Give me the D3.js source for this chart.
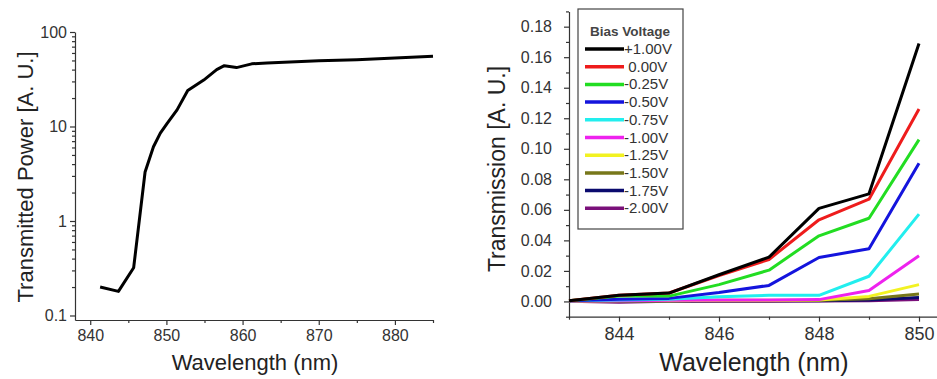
<!DOCTYPE html>
<html>
<head>
<meta charset="utf-8">
<script src="https://cdn.jsdelivr.net/npm/d3@7"></script>
<style>
  body { margin: 0; background: #fff; }
  svg { display: block; font-family: "Liberation Sans", Arial, sans-serif; }
  .axis path, .axis line { stroke: #333; stroke-width: 1.2; }
  .axis text { fill: #333; }
</style>
</head>
<body>
<svg width="937" height="379"></svg>
<script>
// left panel: transmitted power vs wavelength (log scale)
const powerWavelength = [841.3, 843.7, 845.7, 847.2, 848.3, 849.2, 850.1, 851.4, 852.8, 854.9, 856.6, 857.6, 859.2, 861.2, 863.2, 870, 875, 880, 885];
const powerValues = [0.2, 0.18, 0.32, 3.3, 6.1, 8.5, 10.8, 15, 24, 31, 40, 44, 42, 46, 47, 49.5, 51, 53, 55.5];
const powerXTicks = [840, 850, 860, 870, 880];
const powerYTicks = [0.1, 1, 10, 100];

// right panel: transmission for each bias voltage
const biasLabels = ['+1.00V', ' 0.00V', '-0.25V', '-0.50V', '-0.75V', '-1.00V', '-1.25V', '-1.50V', '-1.75V', '-2.00V'];
const biasColors = ['#000000', '#ee1c1c', '#22dd22', '#1414dd', '#22eeee', '#ee22ee', '#f2f222', '#77771a', '#0a0a6e', '#7a107a'];
const transWavelength = [843, 844, 845, 846, 847, 848, 849, 850];
const transP100 = [0.0005, 0.004, 0.0055, 0.0175, 0.029, 0.061, 0.0705, 0.169];
const transP000 = [0.0005, 0.004, 0.0055, 0.017, 0.0275, 0.0535, 0.067, 0.126];
const transM025 = [0.0005, 0.0035, 0.0035, 0.011, 0.0205, 0.043, 0.0545, 0.106];
const transM050 = [0.0005, 0.0015, 0.002, 0.0058, 0.0105, 0.0288, 0.0345, 0.0905];
const transM075 = [0.0005, 0.001, 0.0015, 0.003, 0.004, 0.004, 0.0165, 0.0572];
const transM100 = [0.0003, 0.0005, 0.0008, 0.001, 0.001, 0.0012, 0.0072, 0.0299];
const transM125 = [0.0003, 0.0005, 0.0005, 0.0008, 0.0008, 0.001, 0.0033, 0.011];
const transM150 = [0.0002, 0.0004, 0.0004, 0.0005, 0.0005, 0.0007, 0.0018, 0.0048];
const transM175 = [0.0002, 0.0003, 0.0003, 0.0004, 0.0004, 0.0005, 0.001, 0.0025];
const transM200 = [0.0001, -0.0006, 0.0002, 0.0002, 0.0002, 0.0003, 0.0005, 0.0012];
const transSeries = [transP100, transP000, transM025, transM050, transM075, transM100, transM125, transM150, transM175, transM200];
const transXTicks = [844, 846, 848, 850];
const transYTicks = d3.range(0, 0.181, 0.02);

const svg = d3.select('svg');

// ---------- left chart ----------
const x1 = d3.scaleLinear().domain([838, 885]).range([75, 433]);
const y1 = d3.scaleLog().domain([0.0896, 100]).range([320, 32]);

const minorLog = [];
[0.1, 1, 10].forEach(d => { for (let k = 2; k <= 9; k++) minorLog.push(d * k); });

svg.append('g').attr('class', 'axis')
  .attr('transform', 'translate(0,320)')
  .call(d3.axisBottom(x1).tickValues(powerXTicks).tickSize(5).tickSizeOuter(0).tickPadding(5).tickFormat(d3.format('d')))
  .call(g => g.selectAll('text').style('font-size', '16px'));
svg.append('g').attr('class', 'axis')
  .attr('transform', 'translate(0,320)')
  .call(d3.axisBottom(x1).tickValues([845, 855, 865, 875, 885]).tickSize(3).tickSizeOuter(0).tickFormat(''))
  .call(g => g.select('.domain').remove());

svg.append('g').attr('class', 'axis')
  .attr('transform', 'translate(75,0)')
  .call(d3.axisLeft(y1).tickValues(powerYTicks).tickSize(5).tickSizeOuter(0).tickPadding(3).tickFormat(d => d3.format('~g')(d)))
  .call(g => g.selectAll('text').style('font-size', '16px'));
svg.append('g').attr('class', 'axis')
  .attr('transform', 'translate(75,0)')
  .call(d3.axisLeft(y1).tickValues(minorLog).tickSize(3).tickFormat(''))
  .call(g => g.select('.domain').remove());

svg.append('path')
  .datum(powerWavelength.map((w, i) => [w, powerValues[i]]))
  .attr('fill', 'none')
  .attr('stroke', '#000')
  .attr('stroke-width', 3)
  .attr('stroke-linejoin', 'round')
  .attr('d', d3.line().x(d => x1(d[0])).y(d => y1(d[1])));

svg.append('text')
  .attr('x', 255).attr('y', 370)
  .attr('text-anchor', 'middle')
  .style('font-size', '22px').attr('fill', '#222')
  .text('Wavelength (nm)');

svg.append('text')
  .attr('transform', 'translate(33,177) rotate(-90)')
  .attr('text-anchor', 'middle')
  .style('font-size', '22px').attr('fill', '#222')
  .text('Transmitted Power [A. U.]');

// ---------- right chart ----------
const x2 = d3.scaleLinear().domain([843, 850.35]).range([569, 936.5]);
const y2 = d3.scaleLinear().domain([-0.01, 0.19]).range([316.7, 11.4]);

svg.append('g').attr('class', 'axis')
  .attr('transform', 'translate(0,316.7)')
  .call(d3.axisBottom(x2).tickValues(transXTicks).tickSize(5).tickSizeOuter(0).tickPadding(6).tickFormat(d3.format('d')))
  .call(g => g.selectAll('text').style('font-size', '18px'));
svg.append('g').attr('class', 'axis')
  .attr('transform', 'translate(0,316.7)')
  .call(d3.axisBottom(x2).tickValues([843, 845, 847, 849]).tickSize(3).tickFormat(''))
  .call(g => g.select('.domain').remove());

svg.append('g').attr('class', 'axis')
  .attr('transform', 'translate(569,0)')
  .call(d3.axisLeft(y2).tickValues(transYTicks).tickSize(5).tickSizeOuter(0).tickPadding(12).tickFormat(d3.format('.2f')))
  .call(g => g.selectAll('text').style('font-size', '16px'));
svg.append('g').attr('class', 'axis')
  .attr('transform', 'translate(569,0)')
  .call(d3.axisLeft(y2).tickValues(d3.range(-0.01, 0.191, 0.02)).tickSize(3).tickFormat(''))
  .call(g => g.select('.domain').remove());

const line2 = d3.line().x((d, i) => x2(transWavelength[i])).y(d => y2(d));
// draw the lowest series first so the large ones sit on top
transSeries.slice().reverse().forEach((s, j) => {
  const i = transSeries.length - 1 - j;
  svg.append('path')
    .datum(s)
    .attr('fill', 'none')
    .attr('stroke', biasColors[i])
    .attr('stroke-width', 3)
    .attr('stroke-linejoin', 'round')
    .attr('d', line2);
});

svg.append('text')
  .attr('x', 754).attr('y', 371)
  .attr('text-anchor', 'middle')
  .style('font-size', '25px').attr('fill', '#222')
  .text('Wavelength (nm)');

svg.append('text')
  .attr('transform', 'translate(505,169) rotate(-90)')
  .attr('text-anchor', 'middle')
  .style('font-size', '23px').attr('fill', '#222')
  .text('Transmission [A. U.]');

// legend
const legend = svg.append('g');
legend.append('rect')
  .attr('x', 578).attr('y', 9).attr('width', 105).attr('height', 220)
  .attr('fill', '#fff').attr('stroke', '#444').attr('stroke-width', 1.2);
legend.append('text')
  .attr('x', 630).attr('y', 36)
  .attr('text-anchor', 'middle')
  .style('font-size', '13.5px').style('font-weight', 'bold').attr('fill', '#444')
  .text('Bias Voltage');
biasLabels.forEach((lab, i) => {
  const ly = 49 + i * 17.7;
  legend.append('line')
    .attr('x1', 585).attr('x2', 624).attr('y1', ly).attr('y2', ly)
    .attr('stroke', biasColors[i]).attr('stroke-width', 3.5);
  legend.append('text')
    .attr('x', 624).attr('y', ly + 5)
    .style('font-size', '15px').style('white-space', 'pre').attr('fill', '#333')
    .attr('xml:space', 'preserve')
    .text(lab);
});
</script>
</body>
</html>
